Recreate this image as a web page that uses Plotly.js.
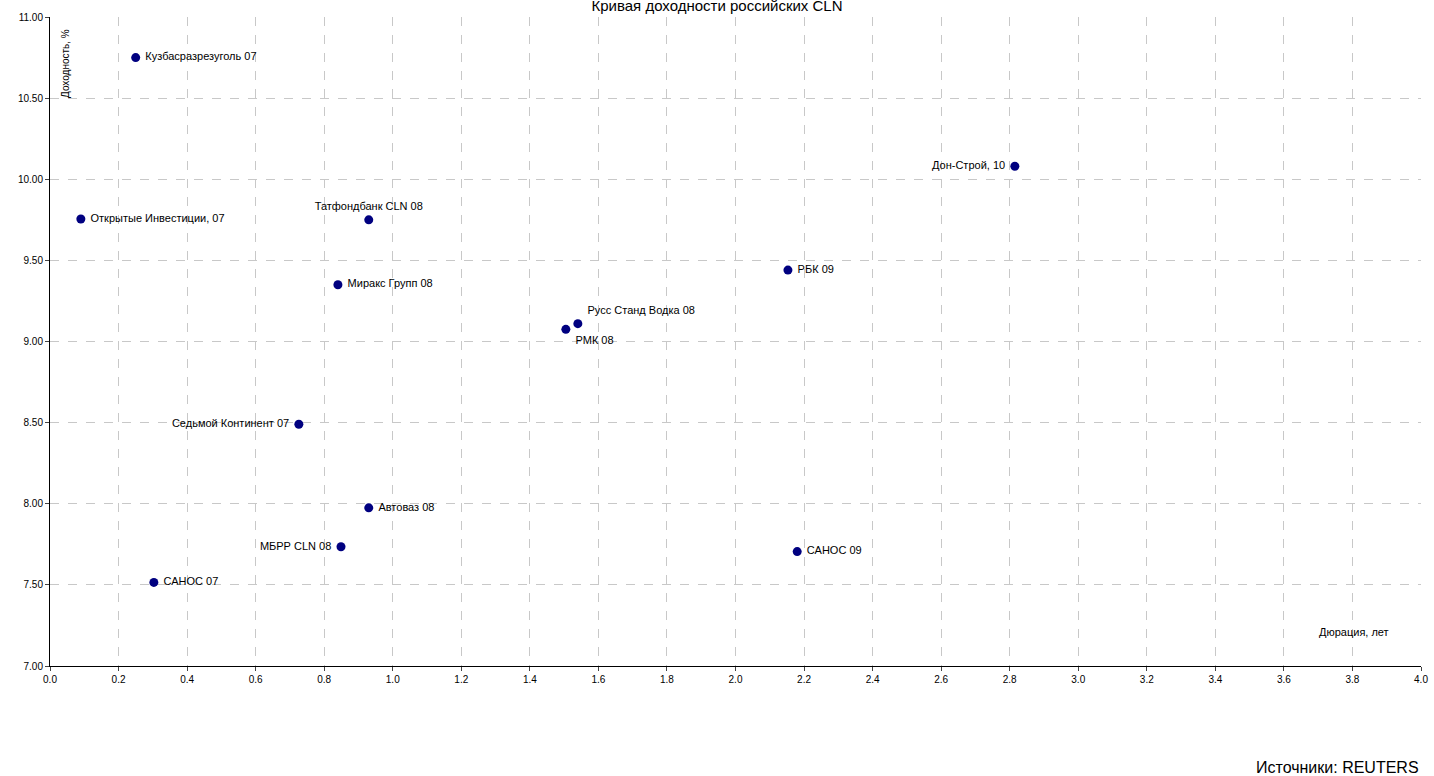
<!DOCTYPE html>
<html>
<head>
<meta charset="utf-8">
<script src="https://cdn.plot.ly/plotly-3.0.1.min.js"></script>
<style>body{margin:0;background:#fff}#chart{width:1434px;height:776px}</style>
</head>
<body>
<div id="chart"></div>
<script>
const names = ['Кузбасразрезуголь 07', 'Открытые Инвестиции, 07', 'Татфондбанк CLN 08', 'Миракс Групп 08',
  'Русс Станд Водка 08', 'РМК 08', 'РБК 09', 'Дон-Строй, 10', 'Седьмой Континент 07', 'Автоваз 08',
  'МБРР CLN 08', 'САНОС 09', 'САНОС 07'];
const duration = [0.25, 0.09, 0.93, 0.84, 1.54, 1.505, 2.153, 2.815, 0.726, 0.93, 0.849, 2.18, 0.303];
const yieldPct = [10.75, 9.755, 9.75, 9.35, 9.11, 9.075, 9.44, 10.08, 8.49, 7.975, 7.735, 7.705, 7.515];
const labelPos = ['middle right', 'middle right', 'top center', 'middle right', 'top right', 'bottom right',
  'middle right', 'middle left', 'middle left', 'middle right', 'middle left', 'middle right', 'middle right'];

const trace = {
  x: duration, y: yieldPct, text: names.map(n => ' ' + n + ' '),
  type: 'scatter', mode: 'markers+text', textposition: labelPos,
  marker: {color: '#000080', size: 9},
  textfont: {family: 'Liberation Sans, Arial', size: 11, color: '#000'},
  cliponaxis: false, hoverinfo: 'x+y'
};

const layout = {
  width: 1434, height: 776,
  margin: {l: 50, r: 13, t: 17, b: 110},
  paper_bgcolor: '#fff', plot_bgcolor: '#fff',
  font: {family: 'Liberation Sans, Arial', size: 10, color: '#000'},
  showlegend: false,
  title: {text: 'Кривая доходности российских CLN', x: 0.5, y: 1, yanchor: 'top', pad: {t: 0},
    font: {size: 15, color: '#000'}},
  xaxis: {range: [0, 4], dtick: 0.2, tickformat: '.1f', showline: true, linecolor: '#000',
    ticks: 'outside', ticklen: 4, gridcolor: '#c8c8c8', griddash: 'dash', gridwidth: 1, zeroline: false},
  yaxis: {range: [7, 11], dtick: 0.5, tickformat: '.2f', showline: true, linecolor: '#000',
    ticks: 'outside', ticklen: 4, gridcolor: '#c8c8c8', griddash: 'dash', gridwidth: 1, zeroline: false},
  annotations: [
    {text: 'Доходность, %', xref: 'paper', yref: 'paper', x: 0.006, y: 0.985, textangle: -90,
      xanchor: 'left', yanchor: 'top', showarrow: false, font: {size: 10}},
    {text: 'Дюрация, лет', xref: 'paper', yref: 'paper', x: 0.978, y: 0.04, xanchor: 'right',
      showarrow: false, font: {size: 11}},
    {text: 'Источники: REUTERS', xref: 'paper', yref: 'paper', x: 1, y: -0.14, xanchor: 'right',
      yanchor: 'top', showarrow: false, font: {size: 16}}
  ]
};

Plotly.newPlot('chart', [trace], layout, {displayModeBar: false});
</script>
</body>
</html>
